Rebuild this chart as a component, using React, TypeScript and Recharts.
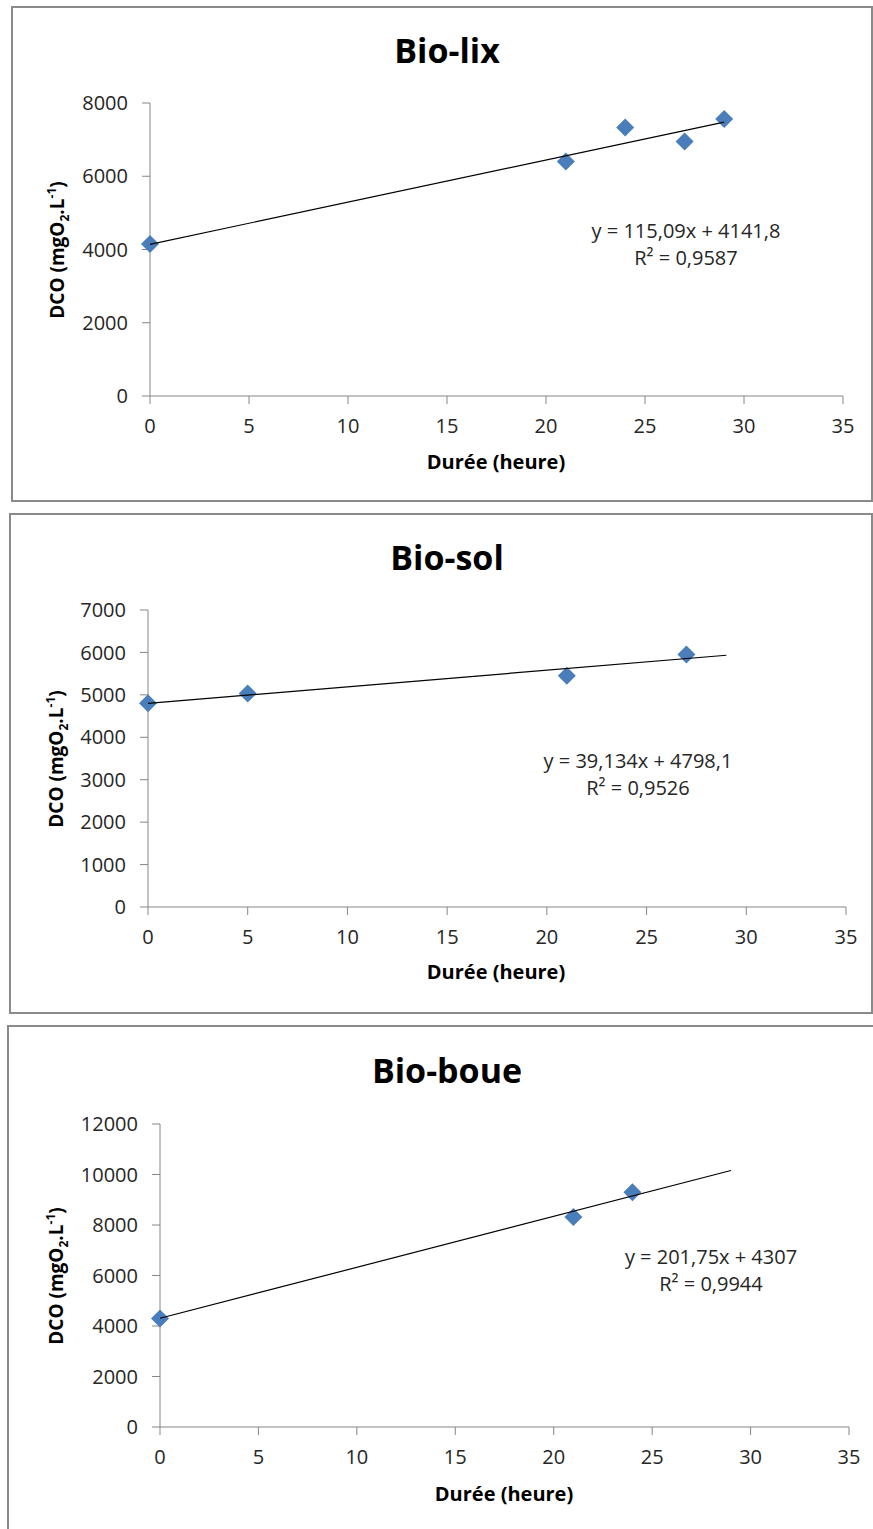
import React from 'react';
import { ScatterChart, Scatter, XAxis, YAxis } from 'recharts';

// Bio-lix
const bioLixHours = [0, 21, 24, 27, 29];
const bioLixDco = [4150, 6400, 7330, 6950, 7560];
const bioLixYTicks = [0, 2000, 4000, 6000, 8000];
const bioLixFit = { slope: 115.09, intercept: 4141.8, eq: 'y = 115,09x + 4141,8', r2: '0,9587' };

// Bio-sol
const bioSolHours = [0, 5, 21, 27];
const bioSolDco = [4800, 5030, 5450, 5950];
const bioSolYTicks = [0, 1000, 2000, 3000, 4000, 5000, 6000, 7000];
const bioSolFit = { slope: 39.134, intercept: 4798.1, eq: 'y = 39,134x + 4798,1', r2: '0,9526' };

// Bio-boue
const bioBoueHours = [0, 21, 24];
const bioBoueDco = [4300, 8320, 9300];
const bioBoueYTicks = [0, 2000, 4000, 6000, 8000, 10000, 12000];
const bioBoueFit = { slope: 201.75, intercept: 4307, eq: 'y = 201,75x + 4307', r2: '0,9944' };

const xTicks = [0, 5, 10, 15, 20, 25, 30, 35];
const trendHours = [0, 29];

const FONT = '"Open Sans", "Noto Sans", sans-serif';
const AXIS = '#868686';
const BLUE = '#4A7EBB';
const W = 873;
const Y_W = 60;
const X_H = 40;

const Diamond = (props: any) => {
  const { cx, cy } = props;
  if (cx == null || cy == null) return null;
  const r = 9;
  return (
    <polygon
      points={`${cx},${cy - r} ${cx + r},${cy} ${cx},${cy + r} ${cx - r},${cy}`}
      fill={BLUE}
    />
  );
};

const NoDot = () => <g />;

type Box = { left: number; top: number; right: number; bottom: number };

interface PanelProps {
  title: string;
  hours: number[];
  dco: number[];
  yTicks: number[];
  fit: { slope: number; intercept: number; eq: string; r2: string };
  box: Box;
  plot: Box;
  titleY: number;
  xLabel: { x: number; y: number };
  yLabelX: number;
  eqPos: { x: number; y: number };
}

const center: React.CSSProperties = {
  position: 'absolute',
  transform: 'translate(-50%, -50%)',
  whiteSpace: 'nowrap',
  lineHeight: 1,
};

const Panel: React.FC<PanelProps> = ({ title, hours, dco, yTicks, fit, box, plot, titleY, xLabel, yLabelX, eqPos }) => {
  const points = hours.map((h, i) => ({ x: h, y: dco[i] }));
  // trend line from the fitted equation shown on the chart
  const trend = trendHours.map(h => ({ x: h, y: fit.intercept + fit.slope * h }));
  const h = box.bottom - box.top;
  const margin = {
    top: plot.top - box.top,
    left: plot.left - Y_W,
    right: W - plot.right,
    bottom: h - (plot.bottom - box.top) - X_H,
  };
  const yMax = yTicks[yTicks.length - 1];

  return (
    <>
      <div
        style={{
          position: 'absolute',
          left: box.left,
          top: box.top,
          width: box.right - box.left,
          height: h,
          border: '2px solid #8a8a8a',
          boxSizing: 'border-box',
        }}
      />
      <div style={{ position: 'absolute', left: 0, top: box.top }}>
        <ScatterChart width={W} height={h} margin={margin}>
          <XAxis
            type="number"
            dataKey="x"
            domain={[0, 35]}
            ticks={xTicks}
            interval={0}
            height={X_H}
            stroke={AXIS}
            tickSize={8}
            tickMargin={15}
            tick={{ fill: '#262626', fontSize: 20, fontFamily: FONT }}
          />
          <YAxis
            type="number"
            dataKey="y"
            domain={[0, yMax]}
            ticks={yTicks}
            interval={0}
            width={Y_W}
            stroke={AXIS}
            tickSize={8}
            tickMargin={14}
            tick={{ fill: '#262626', fontSize: 20, fontFamily: FONT }}
          />
          <Scatter data={points} shape={Diamond} isAnimationActive={false} />
          <Scatter
            data={trend}
            shape={NoDot}
            line={{ stroke: '#000', strokeWidth: 1.2 }}
            isAnimationActive={false}
          />
        </ScatterChart>
      </div>
      <div style={{ ...center, left: 447, top: titleY, fontSize: 34, fontWeight: 700 }}>{title}</div>
      <div style={{ ...center, left: xLabel.x, top: xLabel.y, fontSize: 20, fontWeight: 700 }}>Durée (heure)</div>
      <div
        style={{
          ...center,
          left: yLabelX,
          top: (plot.top + plot.bottom) / 2,
          transform: 'translate(-50%, -50%) rotate(-90deg)',
          fontSize: 19,
          fontWeight: 700,
        }}
      >
        DCO (mgO
        <span style={{ fontSize: 12, position: 'relative', top: 5 }}>2</span>
        .L
        <span style={{ fontSize: 12, position: 'relative', top: -8 }}>-1</span>)
      </div>
      <div style={{ ...center, left: eqPos.x, top: eqPos.y, fontSize: 20, color: '#262626', textAlign: 'center', lineHeight: '27px' }}>
        {fit.eq}
        <br />
        R² = {fit.r2}
      </div>
    </>
  );
};

export default function App() {
  return (
    <div
      style={{
        position: 'absolute',
        left: 0,
        top: 0,
        width: W,
        height: 1529,
        overflow: 'hidden',
        background: '#fff',
        fontFamily: FONT,
        color: '#000',
      }}
    >
      <Panel
        title="Bio-lix"
        hours={bioLixHours}
        dco={bioLixDco}
        yTicks={bioLixYTicks}
        fit={bioLixFit}
        box={{ left: 11, top: 6, right: 873, bottom: 502 }}
        plot={{ left: 150, right: 843, top: 103, bottom: 396 }}
        titleY={50}
        xLabel={{ x: 496, y: 462 }}
        yLabelX={57}
        eqPos={{ x: 686, y: 244 }}
      />
      <Panel
        title="Bio-sol"
        hours={bioSolHours}
        dco={bioSolDco}
        yTicks={bioSolYTicks}
        fit={bioSolFit}
        box={{ left: 9, top: 513, right: 873, bottom: 1014 }}
        plot={{ left: 148, right: 846, top: 610, bottom: 907 }}
        titleY={557}
        xLabel={{ x: 496, y: 972 }}
        yLabelX={56}
        eqPos={{ x: 638, y: 774 }}
      />
      <Panel
        title="Bio-boue"
        hours={bioBoueHours}
        dco={bioBoueDco}
        yTicks={bioBoueYTicks}
        fit={bioBoueFit}
        box={{ left: 7, top: 1025, right: 885, bottom: 1545 }}
        plot={{ left: 160, right: 849, top: 1124, bottom: 1427 }}
        titleY={1070}
        xLabel={{ x: 504, y: 1494 }}
        yLabelX={56}
        eqPos={{ x: 711, y: 1270 }}
      />
    </div>
  );
}
